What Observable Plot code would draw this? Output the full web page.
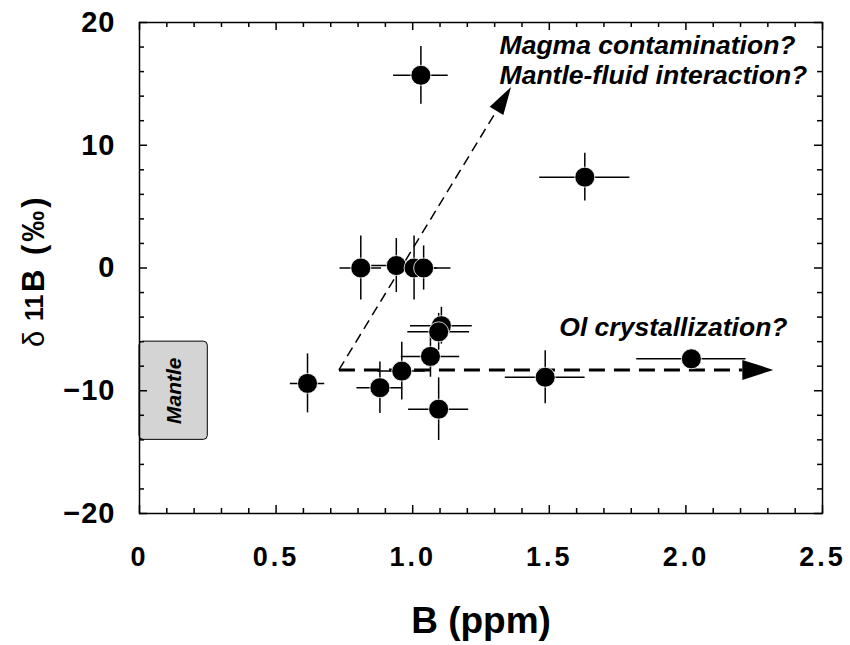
<!DOCTYPE html>
<html><head><meta charset="utf-8">
<script src="https://cdn.jsdelivr.net/npm/d3@7"></script>
<script src="https://cdn.jsdelivr.net/npm/@observablehq/plot@0.6"></script>
<style>
body{margin:0;background:#fff;}
svg{font-family:"Liberation Sans",Arial,sans-serif;}
g[aria-label="x-axis tick label"] text{letter-spacing:3px;}
g[aria-label="y-axis tick label"] text{letter-spacing:1px;}
</style>
</head><body><div id="chart"></div>
<script>
// ---- data ----
const bppm  = [1.03, 1.63, 0.81, 0.94, 1.005, 1.04, 1.105, 1.095, 1.065, 0.96, 0.88, 1.095, 0.615, 1.485, 2.02];
const d11B  = [15.7, 7.4, 0.0, 0.2, 0.0, 0.0, -4.7, -5.2, -7.2, -8.4, -9.75, -11.5, -9.4, -8.9, -7.4];
const bErr  = [0.10, 0.165, 0.076, 0.09, 0.085, 0.10, 0.113, 0.113, 0.107, 0.087, 0.084, 0.11, 0.063, 0.146, 0.20];
const dErr  = [2.35, 1.95, 2.6, 2.2, 2.6, 1.8, 1.5, 1.5, 1.7, 2.35, 2.1, 2.55, 2.4, 2.15, 0.6];

const xMajor = [0, 0.5, 1.0, 1.5, 2.0, 2.5];
const xMinor = [0.1,0.2,0.3,0.4,0.6,0.7,0.8,0.9,1.1,1.2,1.3,1.4,1.6,1.7,1.8,1.9,2.1,2.2,2.3,2.4];
const yMajor = [-20, -10, 0, 10, 20];
const yMinor = [-18,-16,-14,-12,-8,-6,-4,-2,2,4,6,8,12,14,16,18];

const mantleBox = [{x1: 0, x2: 0.25, y1: -14, y2: -6, label: "Mantle", cx: 0.128, cy: -10}];
const arrowStart = {x: 0.73, y: -8.3};
const arrowTips = [
  {name: "contam", x: 1.36, y: 14.75, width: 1.5, dash: "10,6", L: 28, hw: 8},
  {name: "ol", x: 2.32, y: -8.3, width: 3, dash: "16,9", L: 31, hw: 10}
];
const notesLeft = [
  {text: "Magma contamination?", x: 1.318, y: 17.47},
  {text: "Mantle-fluid interaction?", x: 1.318, y: 15.03}
];
const notesRight = [
  {text: "Ol crystallization?", x: 2.372, y: -5.5}
];

// ---- layout ----
const W = 850, H = 645, mL = 139, mT = 22, mR = 28, mB = 132;
const plotW = W - mL - mR, plotH = H - mT - mB;
const kx = plotW / 2.5, ky = plotH / 40;

const pts = bppm.map((x, i) => ({x, y: d11B[i], xe: bErr[i], ye: dErr[i]}));

const heads = arrowTips.map(t => {
  const th = Math.atan2((t.x - arrowStart.x) * kx, (t.y - arrowStart.y) * ky);
  const c = Math.cos(th), s = Math.sin(th);
  const sym = {draw(ctx) {
    [[0,0],[-t.hw,t.L],[t.hw,t.L]].forEach(([x,y],i) => {
      const X = x*c - y*s, Y = x*s + y*c;
      i ? ctx.lineTo(X, Y) : ctx.moveTo(X, Y);
    });
    ctx.closePath();
  }};
  return {...t, sym, bx: t.x - t.L * s / kx, by: t.y - t.L * c / ky};
});

const bold = {fontWeight: "bold", fill: "black"};
const noteStyle = {x: "x", y: "y", text: "text", lineAnchor: "bottom", fontSize: 26.5, fontWeight: "bold", fontStyle: "italic", fill: "black"};

const chart = Plot.plot({
  width: W, height: H,
  marginLeft: mL, marginTop: mT, marginRight: mR, marginBottom: mB,
  x: {domain: [0, 2.5]},
  y: {domain: [-20, 20]},
  style: {fontFamily: "'Liberation Sans', Arial, sans-serif", background: "white", color: "black"},
  marks: [
    // mantle box
    Plot.rect(mantleBox, {x1: "x1", x2: "x2", y1: "y1", y2: "y2", fill: "#d4d4d4", stroke: "black", strokeWidth: 1, rx: 4}),
    Plot.text(mantleBox, {x: "cx", y: "cy", text: "label", rotate: -90, fontSize: 21, fontWeight: "bold", fontStyle: "italic", fill: "black"}),
    // dashed arrows
    ...heads.map(h => Plot.link([h], {x1: () => arrowStart.x, y1: () => arrowStart.y, x2: "bx", y2: "by",
      stroke: "black", strokeWidth: h.width, strokeDasharray: h.dash})),
    ...heads.map(h => Plot.dot([h], {x: "x", y: "y", symbol: h.sym, r: 5, fill: "black", stroke: "none"})),
    // error bars
    Plot.ruleY(pts, {y: "y", x1: d => d.x - d.xe, x2: d => d.x + d.xe, stroke: "black", strokeWidth: 1.5}),
    Plot.ruleX(pts, {x: "x", y1: d => d.y - d.ye, y2: d => d.y + d.ye, stroke: "black", strokeWidth: 1.5}),
    Plot.dot(pts, {x: "x", y: "y", r: 10, fill: "black", stroke: "white", strokeWidth: 0.8}),
    // annotations
    Plot.text(notesLeft, {...noteStyle, textAnchor: "start"}),
    Plot.text(notesRight, {...noteStyle, textAnchor: "end"}),
    // frame and inward ticks
    Plot.frame({stroke: "black", strokeWidth: 1.5}),
    Plot.tickX(xMinor, {x: d => d, insetTop: plotH - 5, stroke: "black", strokeWidth: 1.5}),
    Plot.tickX(xMinor, {x: d => d, insetBottom: plotH - 5, stroke: "black", strokeWidth: 1.5}),
    Plot.tickX(xMajor, {x: d => d, insetTop: plotH - 8, stroke: "black", strokeWidth: 1.5}),
    Plot.tickX(xMajor, {x: d => d, insetBottom: plotH - 8, stroke: "black", strokeWidth: 1.5}),
    Plot.tickY(yMinor, {y: d => d, insetRight: plotW - 5, stroke: "black", strokeWidth: 1.5}),
    Plot.tickY(yMinor, {y: d => d, insetLeft: plotW - 5, stroke: "black", strokeWidth: 1.5}),
    Plot.tickY(yMajor, {y: d => d, insetRight: plotW - 8, stroke: "black", strokeWidth: 1.5}),
    Plot.tickY(yMajor, {y: d => d, insetLeft: plotW - 8, stroke: "black", strokeWidth: 1.5}),
    // axes labels
    Plot.axisX({ticks: xMajor, tickSize: 0, tickPadding: 33, tickFormat: d => d === 0 ? "0" : d.toFixed(1),
      fontSize: 27, fontWeight: "bold", label: null}),
    Plot.axisY({ticks: yMajor, tickSize: 0, tickPadding: 24, tickFormat: d => d < 0 ? "\u2212" + Math.abs(d) : String(d),
      fontSize: 29, fontWeight: "bold", label: null}),
    Plot.text(["B (ppm)"], {frameAnchor: "bottom", dy: 119, lineAnchor: "bottom", fontSize: 37, ...bold}),
    Plot.text(["\u03b4"], {frameAnchor: "left", dx: -95.5, dy: 79, rotate: -90, textAnchor: "start", lineAnchor: "bottom", fontSize: 29, fill: "black"}),
    Plot.text(["11"], {frameAnchor: "left", dx: -96.5, dy: 53, rotate: -90, textAnchor: "start", lineAnchor: "bottom", fontSize: 25, ...bold}),
    Plot.text(["B (\u2030)"], {frameAnchor: "left", dx: -95.5, dy: 24, rotate: -90, textAnchor: "start", lineAnchor: "bottom", fontSize: 31, ...bold})
  ]
});
d3.select(chart).selectAll("text").filter(function() { return this.textContent === "B (\u2030)"; })
  .style("letter-spacing", "3px");
document.getElementById("chart").appendChild(chart);
</script>
</body></html>
